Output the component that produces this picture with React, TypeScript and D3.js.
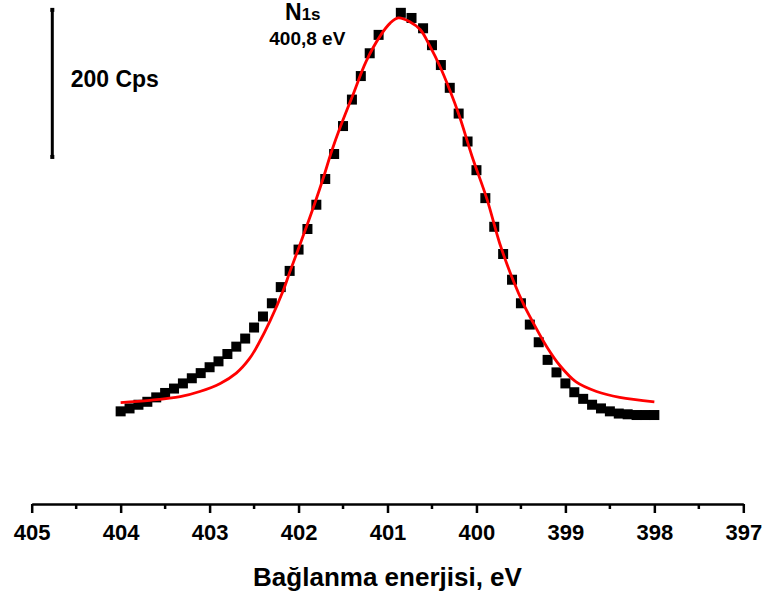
import { useEffect, useRef } from 'react';
import * as d3 from 'd3';

// N1s XPS spectrum — measured points (eV, counts)
const energies = [
  404.0, 403.9, 403.8, 403.7, 403.6, 403.5, 403.4, 403.3, 403.2, 403.1,
  403.0, 402.9, 402.8, 402.7, 402.6, 402.5, 402.4, 402.3, 402.2, 402.1,
  402.0, 401.9, 401.8, 401.7, 401.6, 401.5, 401.4, 401.3, 401.2, 401.1,
  400.85, 400.73, 400.6, 400.5, 400.4, 400.3, 400.2, 400.1, 400.0, 399.9,
  399.8, 399.7, 399.6, 399.5, 399.4, 399.3, 399.2, 399.1, 399.0, 398.9,
  398.8, 398.7, 398.6, 398.5, 398.4, 398.3, 398.2, 398.1, 398.0,
];
const counts = [
  1069, 1073, 1078, 1082, 1088, 1094, 1100, 1107, 1114, 1121,
  1129, 1137, 1147, 1157, 1168, 1183, 1198, 1216, 1238, 1260,
  1289, 1317, 1350, 1385, 1419, 1457, 1493, 1525, 1556, 1581,
  1611, 1604, 1590, 1567, 1540, 1509, 1474, 1436, 1397, 1359,
  1320, 1283, 1248, 1216, 1187, 1163, 1139, 1122, 1107, 1095,
  1086, 1078, 1073, 1069, 1066, 1065, 1064, 1064, 1064,
];

// fitted envelope (red)
const fitEnergies = [
  404.0, 403.67, 403.33, 403.11, 402.88, 402.7, 402.55, 402.45, 402.32, 402.17,
  402.1, 401.95, 401.82, 401.72, 401.63, 401.53, 401.39, 401.24, 401.08, 400.97,
  400.88, 400.75, 400.63, 400.52, 400.41, 400.3, 400.19, 400.05, 399.88, 399.74,
  399.59, 399.46, 399.36, 399.21, 399.06, 398.88, 398.65, 398.39, 398.0,
];
const fitCounts = [
  1081, 1084, 1089, 1096, 1107, 1121, 1141, 1161, 1192, 1234,
  1258, 1307, 1351, 1387, 1422, 1456, 1499, 1545, 1580, 1597,
  1604, 1599, 1588, 1565, 1538, 1506, 1470, 1416, 1357, 1298,
  1248, 1212, 1189, 1157, 1131, 1109, 1096, 1088, 1082,
];

const majorTicks = [405, 404, 403, 402, 401, 400, 399, 398, 397];
const minorTicks = [404.5, 403.5, 402.5, 401.5, 400.5, 399.5, 398.5, 397.5];
const scaleBar = [1415, 1615]; // 200 Cps

const FONT = '"Liberation Sans", Arial, Helvetica, sans-serif';

export default function App() {
  const svgRef = useRef<SVGSVGElement | null>(null);

  useEffect(() => {
    const el = svgRef.current;
    if (!el) return;
    d3.select(el).selectAll('*').remove();

    const W = 768;
    const H = 600;
    const svg = d3.select(el).attr('width', W).attr('height', H);

    const x = d3.scaleLinear().domain([405, 397]).range([31.7, 743.3]);
    const y = d3.scaleLinear().domain([943, 1623]).range([504, 4]);

    // x axis
    const axis = svg.append('g').attr('transform', 'translate(0,504)');
    axis.call(
      d3.axisBottom(x).tickValues(majorTicks).tickSize(9).tickSizeOuter(0).tickFormat(d3.format('d'))
    );
    axis.select('.domain').attr('stroke', '#000').attr('stroke-width', 2.5);
    axis.selectAll('.tick line').attr('stroke', '#000').attr('stroke-width', 2.5);
    axis.selectAll('.tick text')
      .attr('y', 36)
      .attr('dy', 0)
      .style('font-family', FONT)
      .style('font-size', '22px')
      .style('font-weight', 'bold')
      .attr('fill', '#000');

    axis.selectAll('.minor')
      .data(minorTicks)
      .join('line')
      .attr('class', 'minor')
      .attr('x1', d => x(d)).attr('x2', d => x(d))
      .attr('y1', 0).attr('y2', 5)
      .attr('stroke', '#000')
      .attr('stroke-width', 2.5);

    svg.append('text')
      .attr('x', (x(405) + x(397)) / 2)
      .attr('y', 586)
      .attr('text-anchor', 'middle')
      .style('font-family', FONT)
      .style('font-size', '26px')
      .style('font-weight', 'bold')
      .text('Bağlanma enerjisi, eV');

    // fit line
    const fit = fitEnergies.map((e, i) => ({ e, c: fitCounts[i] }));
    const line = d3.line<{ e: number; c: number }>()
      .x(d => x(d.e))
      .y(d => y(d.c))
      .curve(d3.curveCatmullRom.alpha(0.5));

    // measured points
    const pts = energies.map((e, i) => ({ e, c: counts[i] }));
    svg.append('g')
      .selectAll('rect')
      .data(pts)
      .join('rect')
      .attr('x', d => x(d.e) - 5)
      .attr('y', d => y(d.c) - 5)
      .attr('width', 10)
      .attr('height', 10)
      .attr('fill', '#000');

    svg.append('path')
      .datum(fit)
      .attr('fill', 'none')
      .attr('stroke', '#ff0000')
      .attr('stroke-width', 2.8)
      .attr('d', line);

    // scale bar (200 Cps)
    svg.append('line')
      .attr('x1', 52.3).attr('x2', 52.3)
      .attr('y1', y(scaleBar[0])).attr('y2', y(scaleBar[1]))
      .attr('stroke', '#000')
      .attr('stroke-width', 3);
    scaleBar.forEach(v => {
      svg.append('rect')
        .attr('x', 50.3).attr('y', y(v) - 2)
        .attr('width', 4).attr('height', 4)
        .attr('fill', '#000');
    });
    svg.append('text')
      .attr('x', 70.7)
      .attr('y', 86.7)
      .style('font-family', FONT)
      .style('font-size', '23px')
      .style('font-weight', 'bold')
      .text('200 Cps');

    // peak label
    const title = svg.append('text')
      .attr('x', 285)
      .attr('y', 20)
      .style('font-family', FONT)
      .style('font-weight', 'bold');
    title.append('tspan').style('font-size', '23px').text('N');
    title.append('tspan').style('font-size', '17px').text('1s');

    svg.append('text')
      .attr('x', 269.3)
      .attr('y', 45)
      .style('font-family', FONT)
      .style('font-size', '19px')
      .style('font-weight', 'bold')
      .text('400,8 eV');
  }, []);

  return (
    <svg
      ref={svgRef}
      style={{ position: 'absolute', left: 0, top: 0, display: 'block', background: '#fff' }}
    />
  );
}
